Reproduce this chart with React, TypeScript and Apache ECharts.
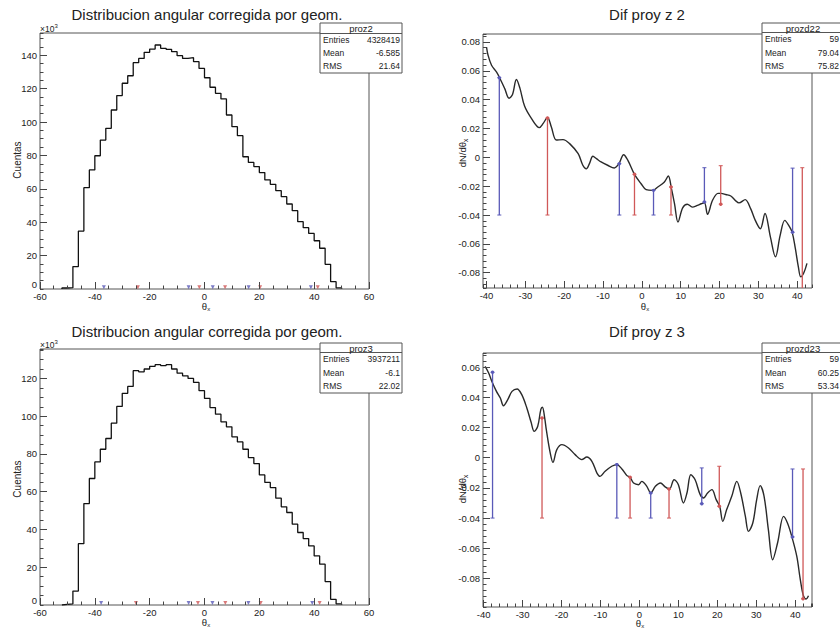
import React, { useEffect, useRef } from "react";
import * as echarts from "echarts";

// ---------- data ----------
const BIN_WIDTH = 2;
const HIST_START = -52;
// counts in units of 10^3, bins of width 2 starting at HIST_START
const hist1Counts = [0.6, 0.8, 13.4, 34.7, 60.7, 71.3, 79.8, 89.2, 96.2, 107.2, 115.8, 123.2, 127.7, 135.5, 138.1, 141.7, 143.7, 146.1, 144.1, 143.5, 142.1, 139.7, 138.1, 138.5, 136.1, 132.1, 126.5, 120.8, 117.2, 113.8, 104.2, 97.2, 91.8, 79.2, 75.8, 73.3, 69.7, 65.3, 62.7, 58.9, 55.3, 50.9, 46.9, 40.3, 36.7, 33.3, 28.9, 24.4, 14.8, 4.4, 0.7];
const hist2Counts = [0.3, 0.6, 7.4, 32.5, 53.7, 67.0, 75.8, 82.5, 88.2, 96.3, 105.2, 112.1, 115.8, 124.1, 123.5, 125.0, 126.4, 127.3, 126.8, 127.3, 125.0, 122.8, 121.4, 120.0, 117.9, 113.5, 109.4, 104.6, 101.1, 97.0, 94.4, 89.1, 86.4, 82.5, 78.1, 74.9, 68.9, 64.9, 62.2, 56.6, 52.0, 49.0, 42.8, 38.4, 35.2, 31.3, 26.0, 21.6, 12.4, 3.0, 0.6];

const curveZ2 = [
  [-40.0, 0.0765], [-39.6, 0.0708], [-38.7, 0.0638], [-37.4, 0.059], [-36.6, 0.055], [-35.3, 0.0476],
  [-34.2, 0.041], [-33.3, 0.0435], [-32.3, 0.054], [-31.4, 0.048], [-30.2, 0.0355], [-28.4, 0.0268],
  [-26.4, 0.0206], [-25.4, 0.0235], [-24.3, 0.0277], [-23.3, 0.021], [-22.0, 0.012], [-20.3, 0.0123],
  [-18.6, 0.0095], [-16.4, 0.0025], [-15.2, -0.0055], [-14.3, -0.008], [-13.5, -0.0044], [-12.6, 0.0007],
  [-11.7, -0.0009], [-10.5, -0.0032], [-8.8, -0.0055], [-7.1, -0.0074], [-5.9, -0.0044], [-4.7, 0.0018],
  [-3.6, -0.0021], [-1.9, -0.0118], [-0.2, -0.0183], [1.1, -0.0224], [2.8, -0.0229], [4.1, -0.0206],
  [5.8, -0.0171], [6.8, -0.013], [7.6, -0.0215], [8.4, -0.0321], [9.3, -0.0449], [10.5, -0.035],
  [11.7, -0.0325], [13.0, -0.0345], [14.3, -0.0333], [15.3, -0.0322], [16.1, -0.0315], [16.9, -0.0395],
  [18.2, -0.0298], [19.6, -0.025], [20.4, -0.025], [21.6, -0.0258], [22.9, -0.0268], [24.1, -0.03],
  [25.0, -0.0316], [26.6, -0.0293], [28.0, -0.0356], [29.2, -0.0437], [30.5, -0.0495], [31.7, -0.039],
  [33.1, -0.0553], [34.4, -0.069], [35.6, -0.0541], [36.8, -0.0437], [37.8, -0.0472], [38.7, -0.052],
  [39.5, -0.063], [40.3, -0.0761], [40.9, -0.0828], [41.7, -0.08], [42.5, -0.0735],
];

const curveZ3 = [
  [-39.6, 0.0605], [-38.7, 0.0561], [-37.9, 0.0506], [-36.7, 0.0439], [-35.7, 0.0395], [-34.9, 0.0344],
  [-33.8, 0.0384], [-32.7, 0.0439], [-31.4, 0.0455], [-30.2, 0.0417], [-28.9, 0.0329], [-27.8, 0.0234],
  [-27.0, 0.0174], [-26.1, 0.0208], [-25.3, 0.032], [-24.9, 0.0334], [-24.3, 0.026], [-23.9, 0.0185],
  [-22.9, 0.0031], [-22.2, -0.0031], [-21.2, 0.0053], [-19.9, 0.0086], [-18.2, 0.0064], [-16.5, 0.002],
  [-14.8, -0.0013], [-13.5, 0.0004], [-12.2, -0.0024], [-10.9, -0.0102], [-10.1, -0.0124], [-8.8, -0.009],
  [-7.1, -0.0057], [-5.8, -0.0046], [-4.5, -0.0075], [-3.2, -0.0119], [-2.4, -0.013], [-1.5, -0.0168],
  [-0.2, -0.0179], [0.6, -0.0157], [1.9, -0.019], [2.9, -0.0234], [4.1, -0.019], [5.4, -0.0168],
  [6.6, -0.0194], [7.7, -0.0208], [8.9, -0.0146], [10.0, -0.0179], [11.3, -0.03], [12.2, -0.0234],
  [13.2, -0.0113], [14.3, -0.0146], [15.6, -0.0245], [16.5, -0.0267], [17.5, -0.0234], [18.6, -0.0212],
  [19.7, -0.0278], [20.6, -0.0322], [21.4, -0.0422], [22.4, -0.0344], [23.7, -0.0256], [25.0, -0.0157],
  [26.0, -0.0234], [27.2, -0.0389], [28.0, -0.0488], [29.1, -0.0433], [30.1, -0.0278], [31.0, -0.0185],
  [32.0, -0.0256], [33.1, -0.0477], [34.2, -0.0676], [35.5, -0.056], [37.0, -0.0389], [38.0, -0.0433],
  [39.1, -0.0521], [40.4, -0.0654], [41.3, -0.0808], [42.1, -0.0915], [42.8, -0.0936], [43.4, -0.0915],
];

const peaksZ2X = [-36.7, -24.3, -5.8, -1.9, 3.0, 7.5, 16.1, 20.3, 38.8, 41.3];
const peaksZ2Top = [0.0552, 0.0272, -0.0044, -0.0118, -0.0229, -0.0206, -0.0072, -0.0058, -0.0075, -0.0072];
const peaksZ2Bottom = [-0.04, -0.04, -0.04, -0.04, -0.04, -0.04, -0.031, -0.0325, -0.052, -0.096];
const peaksZ2Mark = [0.0552, 0.0272, -0.0044, -0.0118, -0.0229, -0.0206, -0.031, -0.0325, -0.052, -0.096];

const peaksZ3X = [-37.7, -25.0, -5.8, -2.4, 2.9, 7.6, 16.0, 20.5, 39.3, 42.0];
const peaksZ3Top = [0.0565, 0.0262, -0.0046, -0.013, -0.0234, -0.0208, -0.0068, -0.0057, -0.0075, -0.0075];
const peaksZ3Bottom = [-0.04, -0.04, -0.04, -0.04, -0.04, -0.04, -0.0305, -0.0322, -0.0525, -0.0935];
const peaksZ3Mark = [0.0565, 0.0262, -0.0046, -0.013, -0.0234, -0.0208, -0.0305, -0.0322, -0.0525, -0.0935];

const stats1 = { name: "proz2", rows: [["Entries", "4328419"], ["Mean", "-6.585"], ["RMS", "21.64"]] };
const stats2 = { name: "prozd22", rows: [["Entries", "59"], ["Mean", "79.04"], ["RMS", "75.82"]] };
const stats3 = { name: "proz3", rows: [["Entries", "3937211"], ["Mean", "-6.1"], ["RMS", "22.02"]] };
const stats4 = { name: "prozd23", rows: [["Entries", "59"], ["Mean", "60.25"], ["RMS", "53.34"]] };

const histTitle = "Distribucion angular corregida por geom.";
const difTitle2 = "Dif proy z 2";
const difTitle3 = "Dif proy z 3";
const zeroLabel = "0";

// ---------- styles ----------
const FONT = "'Liberation Sans', Arial, Helvetica, sans-serif";
const TEXT = "#222";
const FRAME = "#555";
const BLUE = "#5a5ab8";
const RED = "#d05858";

const grids = [
  { left: 40, top: 33, width: 329, height: 256 },
  { left: 483, top: 34, width: 329, height: 254 },
  { left: 40, top: 349, width: 329, height: 256 },
  { left: 483, top: 353, width: 329, height: 254 },
];

const axesDef = [
  { x: [-60, 60], y: [0, 153.3], xMaj: 20, xMin: 5, yMaj: 20, yMin: 5, hist: true },
  { x: [-40.9, 43.8], y: [-0.0906, 0.0855], xMaj: 10, xMin: 2, yMaj: 0.02, yMin: 0.004, hist: false },
  { x: [-60, 60], y: [0, 135.6], xMaj: 20, xMin: 5, yMaj: 20, yMin: 5, hist: true },
  { x: [-40.15, 44.3], y: [-0.0989, 0.0693], xMaj: 10, xMin: 2, yMaj: 0.02, yMin: 0.004, hist: false },
];

function histData(counts: number[]) {
  const pts: number[][] = [[HIST_START, 0]];
  counts.forEach((c, i) => pts.push([HIST_START + i * BIN_WIDTH, c]));
  pts.push([HIST_START + counts.length * BIN_WIDTH, 0]);
  return pts;
}

function makeAxis(dim: "x" | "y", g: number, min: number, max: number, step: number, major: boolean, showMin: boolean, showMax: boolean) {
  return {
    type: "value",
    gridIndex: g,
    position: dim === "x" ? "bottom" : "left",
    min,
    max,
    minInterval: step,
    maxInterval: step,
    splitNumber: Math.max(1, Math.round((max - min) / step)),
    axisLine: { show: false, onZero: false },
    splitLine: { show: false },
    axisTick: { show: true, inside: true, length: major ? 7 : 3.5, lineStyle: { color: "#444", width: 1 } },
    axisLabel: major
      ? { show: true, fontSize: 9.5, fontFamily: FONT, color: TEXT, margin: dim === "x" ? 2 : 3, showMinLabel: showMin, showMaxLabel: showMax }
      : { show: false },
    z: 5,
  };
}

function statsBox(x: number, y: number, w: number, h: number, head: number, s: { name: string; rows: string[][] }, valueRight: number) {
  const els: any[] = [
    { type: "rect", shape: { x, y, width: w, height: h }, style: { fill: "#fff", stroke: FRAME, lineWidth: 1 }, z: 100 },
    { type: "line", shape: { x1: x, y1: y + head, x2: x + w, y2: y + head }, style: { stroke: FRAME, lineWidth: 1 }, z: 101 },
    {
      type: "text", x: x + w / 2, y: y + head / 2 + 0.5, z: 102,
      style: { text: s.name, fontSize: 9.5, fontFamily: FONT, fill: TEXT, align: "center", verticalAlign: "middle" },
    },
  ];
  const rowH = (h - head) / s.rows.length;
  s.rows.forEach((r, i) => {
    const cy = y + head + rowH * (i + 0.5);
    els.push({ type: "text", x: x + 3, y: cy, z: 102, style: { text: r[0], fontSize: 8.5, fontFamily: FONT, fill: TEXT, align: "left", verticalAlign: "middle" } });
    els.push({ type: "text", x: valueRight, y: cy, z: 102, style: { text: r[1], fontSize: 8.5, fontFamily: FONT, fill: TEXT, align: "right", verticalAlign: "middle" } });
  });
  return els;
}

function centerText(x: number, y: number, text: string, size: number) {
  return { type: "text", x, y, z: 50, style: { text, fontSize: size, fontFamily: FONT, fill: TEXT, align: "center", verticalAlign: "middle" } };
}

function rightText(x: number, y: number, text: string, size: number) {
  return { type: "text", x, y, z: 50, style: { text, fontSize: size, fontFamily: FONT, fill: TEXT, align: "right", verticalAlign: "middle" } };
}

function thetaLabel(x: number, y: number) {
  return {
    type: "text", x, y, z: 50,
    style: {
      text: "{m|θ}{s|x}", align: "center", verticalAlign: "top",
      rich: {
        m: { fontSize: 9.5, fontFamily: FONT, fill: TEXT },
        s: { fontSize: 6, fontFamily: FONT, fill: TEXT, padding: [5, 0, 0, 0] },
      },
    },
  };
}

function rotLabel(x: number, y: number, rich: boolean, text: string) {
  return {
    type: "text", x, y, rotation: Math.PI / 2, z: 50,
    style: rich
      ? {
          text, align: "center", verticalAlign: "middle",
          rich: {
            m: { fontSize: 9.5, fontFamily: FONT, fill: TEXT },
            s: { fontSize: 6.5, fontFamily: FONT, fill: TEXT, padding: [6, 0, 0, 0] },
          },
        }
      : { text, fontSize: 10, fontFamily: FONT, fill: TEXT, align: "center", verticalAlign: "middle" },
  };
}

function powerLabel(x: number, y: number) {
  return {
    type: "text", x, y, z: 50,
    style: {
      text: "{m|×10}{s|3}", align: "left", verticalAlign: "middle",
      rich: {
        m: { fontSize: 8.5, fontFamily: FONT, fill: TEXT },
        s: { fontSize: 6, fontFamily: FONT, fill: TEXT, padding: [0, 0, 6, 0] },
      },
    },
  };
}

const peakRender = (params: any, api: any) => {
  const x = api.value(0);
  const a = api.coord([x, api.value(1)]);
  const b = api.coord([x, api.value(2)]);
  const m = api.coord([x, api.value(3)]);
  const color = params.dataIndex % 2 === 0 ? BLUE : RED;
  const cap = 2;
  return {
    type: "group",
    children: [
      { type: "line", shape: { x1: a[0], y1: a[1], x2: b[0], y2: b[1] }, style: { stroke: color, lineWidth: 1.3 } },
      { type: "line", shape: { x1: a[0] - cap, y1: a[1], x2: a[0] + cap, y2: a[1] }, style: { stroke: color, lineWidth: 1 } },
      { type: "line", shape: { x1: b[0] - cap, y1: b[1], x2: b[0] + cap, y2: b[1] }, style: { stroke: color, lineWidth: 1 } },
      { type: "circle", shape: { cx: m[0], cy: m[1], r: 1.7 }, style: { fill: color } },
    ],
  };
};

export default function App() {
  const ref = useRef<HTMLDivElement>(null);
  useEffect(() => {
    if (!ref.current) return;
    const chart = echarts.init(ref.current, undefined, { renderer: "svg" });

    const xAxis: any[] = [];
    const yAxis: any[] = [];
    axesDef.forEach((d, g) => {
      xAxis.push(makeAxis("x", g, d.x[0], d.x[1], d.xMaj, true, d.hist, d.hist));
      xAxis.push(makeAxis("x", g, d.x[0], d.x[1], d.xMin, false, false, false));
      yAxis.push(makeAxis("y", g, d.y[0], d.y[1], d.yMaj, true, false, false));
      yAxis.push(makeAxis("y", g, d.y[0], d.y[1], d.yMin, false, false, false));
    });

    const histSeries = (g: number, counts: number[], peaks: number[]) => [
      {
        type: "line", xAxisIndex: 2 * g, yAxisIndex: 2 * g, data: histData(counts), step: "end",
        symbol: "none", lineStyle: { color: "#111", width: 1.3 }, clip: true, z: 3,
      },
      {
        type: "scatter", xAxisIndex: 2 * g, yAxisIndex: 2 * g, symbol: "triangle", symbolSize: 4, symbolRotate: 180,
        data: peaks.map((x, i) => ({ value: [x, 1], itemStyle: { color: i % 2 === 0 ? BLUE : RED } })), clip: false, z: 4,
      },
    ];
    const difSeries = (g: number, curve: number[][], px: number[], pt: number[], pb: number[], pm: number[]) => [
      {
        type: "line", xAxisIndex: 2 * g, yAxisIndex: 2 * g, data: curve, smooth: 0.35, symbol: "none",
        lineStyle: { color: "#2a2a2a", width: 1.4 }, clip: true, z: 3,
      },
      {
        type: "custom", xAxisIndex: 2 * g, yAxisIndex: 2 * g, renderItem: peakRender, clip: true, z: 4,
        encode: { x: 0, y: [1, 2, 3] },
        data: px.map((x, i) => [x, pt[i], pb[i], pm[i]]),
      },
    ];

    const graphics: any[] = [
      centerText(207, 14, histTitle, 15),
      centerText(647, 14, difTitle2, 15),
      centerText(207, 331, histTitle, 15),
      centerText(647, 331, difTitle3, 15),
      rightText(37, 284.5, zeroLabel, 9.5),
      rightText(37, 600.5, zeroLabel, 9.5),
      powerLabel(40, 29),
      powerLabel(40, 345),
      rotLabel(17, 160, false, "Cuentas"),
      rotLabel(17, 479, false, "Cuentas"),
      rotLabel(462, 153, true, "{m|dN/dθ}{s|x}"),
      rotLabel(462, 489, true, "{m|dN/dθ}{s|x}"),
      thetaLabel(206, 301),
      thetaLabel(645, 301),
      thetaLabel(206, 617),
      thetaLabel(640, 618),
      ...statsBox(320, 23, 82, 50, 10.5, stats1, 400),
      ...statsBox(762, 23, 82, 50, 9.5, stats2, 839),
      ...statsBox(320, 343, 82, 50, 9.5, stats3, 400),
      ...statsBox(762, 343, 82, 50, 9.5, stats4, 839),
    ];

    chart.setOption({
      animation: false,
      backgroundColor: "#fff",
      grid: grids.map((g) => ({ ...g, show: true, borderColor: FRAME, borderWidth: 1, backgroundColor: "transparent", containLabel: false })),
      xAxis,
      yAxis,
      series: [
        ...histSeries(0, hist1Counts, peaksZ2X),
        ...difSeries(1, curveZ2, peaksZ2X, peaksZ2Top, peaksZ2Bottom, peaksZ2Mark),
        ...histSeries(2, hist2Counts, peaksZ3X),
        ...difSeries(3, curveZ3, peaksZ3X, peaksZ3Top, peaksZ3Bottom, peaksZ3Mark),
      ],
      graphic: { elements: graphics },
    });
    return () => chart.dispose();
  }, []);
  return <div ref={ref} style={{ position: "absolute", left: 0, top: 0, width: 840, height: 632 }} />;
}
